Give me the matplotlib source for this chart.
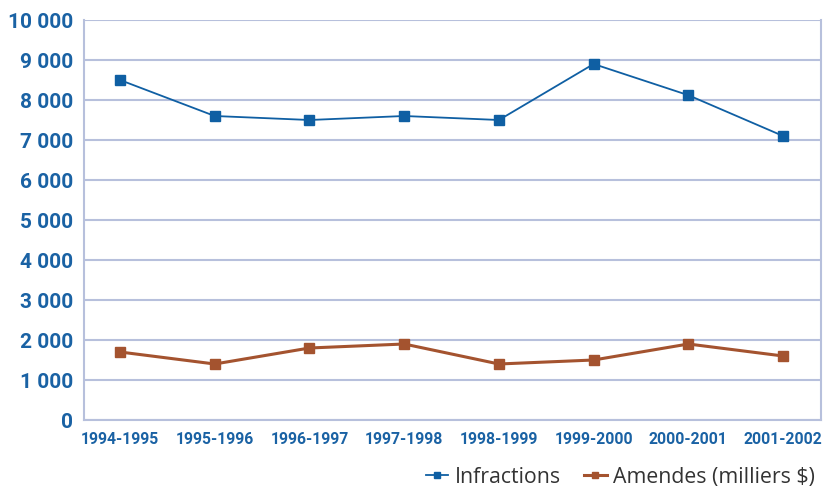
import matplotlib.pyplot as plt
from matplotlib.ticker import FuncFormatter

# Data
periods = ["1994-1995", "1995-1996", "1996-1997", "1997-1998",
           "1998-1999", "1999-2000", "2000-2001", "2001-2002"]
infractions = [8500, 7600, 7500, 7600, 7500, 8900, 8120, 7100]
amendes = [1700, 1400, 1800, 1900, 1400, 1500, 1900, 1600]

blue = "#0F5FA3"
brown = "#A4532F"
grid_col = "#B7C0DC"
label_col = "#1A62A4"

plt.rcParams['font.family'] = ['Roboto', 'DejaVu Sans']

fig = plt.figure(figsize=(8.24, 4.91), dpi=100)
ax = fig.add_axes([84 / 824, 71 / 491, 737 / 824, 400 / 491])

x = list(range(len(periods)))
ax.plot(x, infractions, color=blue, lw=1.3, marker="s", ms=6.5,
        label="Infractions", zorder=3)
ax.plot(x, amendes, color=brown, lw=2.2, marker="s", ms=6.5,
        label="Amendes (milliers $)", zorder=3)

ax.set_xlim(-0.38, 7.40)
ax.set_ylim(0, 10000)
ax.set_yticks(range(0, 10001, 1000))
ax.yaxis.set_major_formatter(FuncFormatter(lambda v, p: f"{int(v):,}".replace(",", " ")))
ax.set_xticks(x)
ax.set_xticklabels(periods)

ax.grid(axis="y", color=grid_col, lw=1.5)
ax.set_axisbelow(True)
for side in ["left", "bottom", "right"]:
    ax.spines[side].set_color(grid_col)
    ax.spines[side].set_linewidth(1.5)
ax.spines["top"].set_visible(False)

ax.tick_params(axis="both", length=0, colors=label_col)
ax.tick_params(axis="y", labelsize=15, pad=8)
ax.tick_params(axis="x", labelsize=11.3, pad=9)
for t in ax.get_xticklabels() + ax.get_yticklabels():
    t.set_fontweight("bold")

leg = fig.legend(loc="lower right", bbox_to_anchor=(1.012, -0.032), ncol=2,
                 frameon=False, handlelength=1.05,
                 handletextpad=0.3, columnspacing=1.1, markerscale=0.6,
                 prop={'family': ['Open Sans', 'DejaVu Sans'], 'size': 15.3})
for t in leg.get_texts():
    t.set_color("#333333")

fig.savefig("out.png", dpi=100)
